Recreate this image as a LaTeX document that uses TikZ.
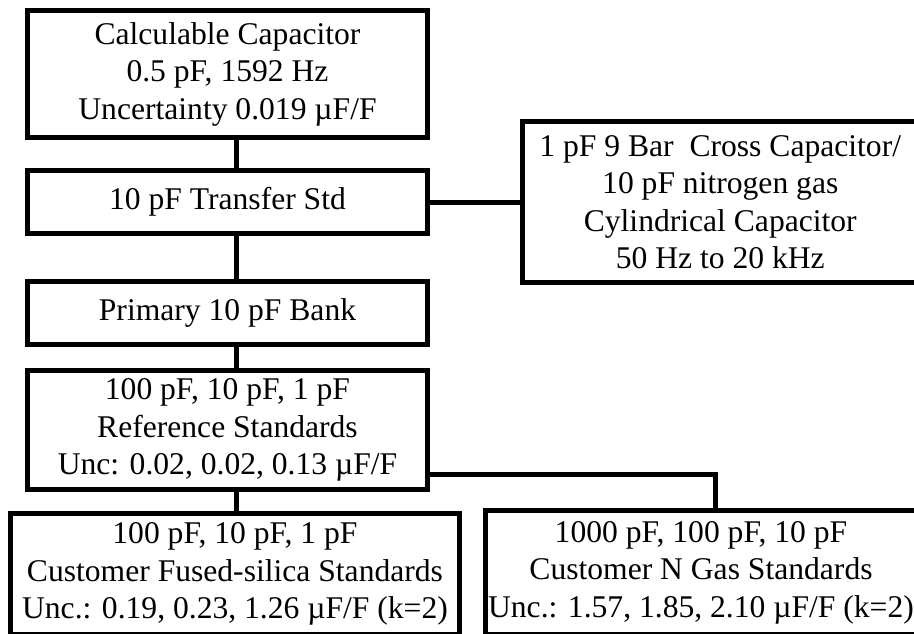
\documentclass[tikz,border=0pt]{standalone}
\usepackage{fontspec}
\setmainfont{Liberation Serif}
\usetikzlibrary{positioning}

\begin{document}
\begin{tikzpicture}[
    x=0.5pt, y=-0.5pt,
    font=\fontsize{15.8}{18.75}\selectfont,
    block/.style={draw=black, line width=2.5pt, align=center, inner sep=0pt,
        minimum width=200pt, fill=white},
    link/.style={line width=2.5pt, draw=black}
]
\useasboundingbox (0,0) rectangle (914,633);
\clip (0,0) rectangle (914,633);
\node[block, minimum height=63.5pt] (calc) at (227.5,74) {Calculable Capacitor\\0.5 pF, 1592 Hz\\Uncertainty 0.019 µF/F};
\node[block, minimum height=31.5pt] (transfer) at (227.5,202) {10 pF Transfer Std};
\node[block, minimum height=31.5pt] (primary) at (227.5,313) {Primary 10 pF Bank};
\node[block, minimum height=59.5pt] (refstd) at (227.5,430) {100 pF, 10 pF, 1 pF\\Reference Standards\\Unc: 0.02, 0.02, 0.13 µF/F};
\node[block, minimum width=224.5pt, minimum height=60.5pt] (fused) at (235,574) {100 pF, 10 pF, 1 pF\\Customer Fused-silica Standards\\Unc.: 0.19, 0.23, 1.26 µF/F (k=2)};
\node[block, minimum width=216pt, minimum height=62pt] (ngas) at (701,572.5) {1000 pF, 100 pF, 10 pF\\Customer N Gas Standards\\Unc.: 1.57, 1.85, 2.10 µF/F (k=2)};
\node[block, minimum width=197.75pt, minimum height=80.5pt] (cross) at (720.25,202) {1 pF 9 Bar\ \ Cross Capacitor/\\10 pF nitrogen gas\\Cylindrical Capacitor\\50 Hz to 20 kHz};
\coordinate (spine) at (236,0);
\draw[link] (calc.south -| spine) -- (transfer.north -| spine);
\draw[link] (transfer.south -| spine) -- (primary.north -| spine);
\draw[link] (primary.south -| spine) -- (refstd.north -| spine);
\draw[link] (refstd.south -| spine) -- (fused.north -| spine);
\draw[link] (transfer.east) -- (cross.west);
\draw[link] ([yshift=-22pt]refstd.east) -| ([xshift=7pt]ngas.north);
\end{tikzpicture}
\end{document}
